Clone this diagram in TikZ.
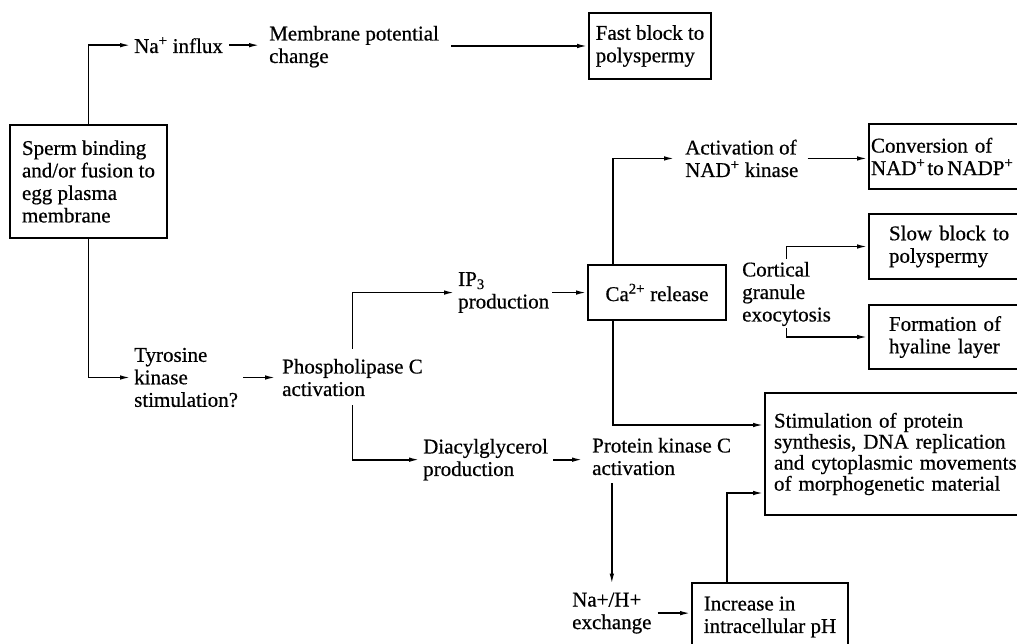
\documentclass[tikz,border=0pt]{standalone}
\usepackage{fontspec}
\setmainfont[FakeBold=0.6]{Liberation Serif}
\usetikzlibrary{arrows.meta}
\begin{document}
\begin{tikzpicture}[x=1pt,y=-1pt,
  every node/.style={font=\fontsize{21pt}{22.5pt}\selectfont},
  lbl/.style={inner xsep=3pt, inner ysep=0pt, align=left, anchor=north west},
  box/.style={draw, line width=2pt, inner sep=0pt, align=left, anchor=north west},
  flow/.style={line width=1.7pt, -{Latex[length=11pt,width=4.5pt]}}]
\useasboundingbox (0,0) rectangle (1017,644);
\clip (0,0) rectangle (1017,644);

% boxed stages
\node[box, minimum width=157pt, minimum height=113pt] (sperm) at (9,124)
  {Sperm binding\\and/or fusion to\\egg plasma\\membrane};
\node[box, minimum width=122pt, minimum height=66pt] (fast) at (588,12)
  {Fast block to\\polyspermy};
\node[box, inner xsep=2pt, text width=175pt, minimum height=65pt] (conv) at (868,123)
  {Conversion of\\NAD\textsuperscript{+}\hspace{-1.5pt}\hspace{3.6pt}to\hspace{3.6pt}NADP\textsuperscript{+}};
\node[box, inner xsep=20pt, text width=160pt, minimum height=65pt] (slow) at (868,213)
  {Slow block to\\polyspermy};
\node[box, inner xsep=20pt, text width=160pt, minimum height=64pt] (form) at (868,304)
  {Formation of\\hyaline layer};
\node[box, minimum width=138pt, minimum height=55pt] (ca) at (587,264)
  {Ca\textsuperscript{2+} release};
\node[box, inner xsep=9pt, text width=255pt, minimum height=122pt,
      font=\fontsize{21pt}{21pt}\selectfont] (stim) at (764,392)
  {Stimulation of protein\\synthesis, DNA replication\\and cytoplasmic movements\\of morphogenetic material};
\node[box, minimum width=156pt, minimum height=68pt] (incr) at (691,582)
  {Increase in\\intracellular pH};

% free-standing labels
\node[lbl, anchor=base west] (na) at (131,53) {Na\textsuperscript{+} influx};
\node[lbl] (mem) at (266,25.7) {Membrane potential\\change};
\node[lbl] (tyr) at (131,347.7) {Tyrosine\\kinase\\stimulation?};
\node[lbl] (plc) at (279,358.7) {Phospholipase C\\activation};
\node[lbl] (ip3) at (455,272) {IP\textsubscript{3}\\production};
\node[lbl] (act) at (682,139.5) {Activation of\\NAD\textsuperscript{+} kinase};
\node[lbl] (diac) at (420,438.7) {Diacylglycerol\\production};
\node[lbl] (pkc) at (589,437.7) {Protein kinase C\\activation};
\node[lbl] (cort) at (739,261.7) {Cortical\\granule\\exocytosis};
\node[lbl] (nah) at (569,592.5) {Na+/H+\\exchange};

% fast pathway
\draw[flow] (sperm.north) |- (na.west);
\draw[flow, shorten <=3pt, shorten >=6pt] (na.east) -- (na.east -| mem.west);
\draw[flow, shorten <=9pt] (mem.east |- fast.west) -- (fast.west);

% slow pathway
\draw[flow] (sperm.south) |- (tyr.west);
\draw[flow, shorten <=2pt, shorten >=3pt] (tyr.east) -- (tyr.east -| plc.west);
\draw[flow, shorten <=10pt] (plc.north) |- (ip3.west);
\draw[flow, shorten <=9pt] (plc.south) |- (diac.west);
\draw[flow] (ip3.east) -- (ip3.east -| ca.west);
\draw[flow, shorten >=7pt] ([xshift=26pt]ca.north west) |- (act.west);
\draw[flow, shorten <=6pt] (act.east) -- (act.east -| conv.west);
\draw[flow, shorten <=3pt] (cort.north) |- (slow.west);
\draw[flow, shorten <=2pt] (cort.south) |- (form.west);
\draw[flow] ([xshift=26pt]ca.south west) |- ([yshift=-33pt]stim.north west);
\draw[flow, shorten <=2pt, shorten >=6pt] (diac.east) -- (diac.east -| pkc.west);
\draw[flow, shorten <=8pt, shorten >=8pt] (nah.north |- pkc.south) -- (nah.north);
\draw[flow, shorten <=3pt] (nah.east) -- (nah.east -| incr.west);
\draw[flow] ([xshift=36pt]incr.north west) |- ([yshift=-101pt]stim.north west);
\end{tikzpicture}
\end{document}
